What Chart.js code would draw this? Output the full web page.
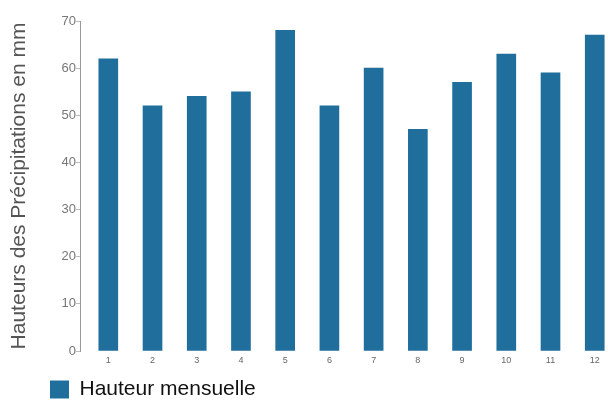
<!DOCTYPE html>
<html>
<head>
<meta charset="utf-8">
<script src="https://cdn.jsdelivr.net/npm/chart.js@4"></script>
<style>
  html, body { margin: 0; padding: 0; background: #fff; overflow: hidden; }
  #wrap { width: 608px; height: 400px; }
</style>
</head>
<body>
<div id="wrap"><canvas id="canva1"></canvas></div>
<script>
const Months = ['1', '2', '3', '4', '5', '6', '7', '8', '9', '10', '11', '12'];
const Heights = [62, 52, 54, 55, 68, 52, 60, 47, 57, 63, 59, 67];
const yTicks = [0, 10, 20, 30, 40, 50, 60, 70];
const seriesLabel = 'Hauteur mensuelle';
const yTitle = 'Hauteurs des Précipitations en mm';

var ctx1 = document.getElementById('canva1').getContext('2d');

// move the legend to the left like in the picture
const legendShift = {
    id: 'legendShift',
    afterLayout(chart) {
        if (chart.legend) chart.legend.left = 49;
    }
};

const barData = {
    datasets: [{
        label: seriesLabel,
        data: Heights.map((v, i) => ({ x: i + 1, y: v })),
        backgroundColor: '#1f6e9c',
        borderColor: '#1f6e9c',
        borderWidth: 0,
        barThickness: 19,
    }]
};

const scales = {
    x: {
        type: 'linear',
        offset: false,
        min: 0.36,
        max: 12.3,
        afterBuildTicks: (scale) => {
            scale.ticks = Months.map((m, i) => ({ value: i + 1 }));
        },
        afterFit: (scale) => { scale.height = 27; },
        grid: { display: false, drawTicks: false },
        border: { display: false },
        ticks: {
            padding: 4,
            color: '#666',
            font: { family: 'Liberation Sans', size: 9 },
            callback: (v) => Months[v - 1],
        },
    },
    y: {
        min: 0,
        max: 70,
        afterBuildTicks: (scale) => {
            scale.ticks = yTicks.map(v => ({ value: v }));
        },
        afterFit: (scale) => { scale.width = 80; },
        grid: {
            drawOnChartArea: false,
            tickLength: 4,
            color: '#bbb',
        },
        border: { display: true, color: '#999', width: 1 },
        ticks: {
            padding: 0,
            color: '#777',
            font: { family: 'Liberation Sans', size: 13 },
        },
        title: {
            display: true,
            text: yTitle,
            color: '#555',
            font: { family: 'Liberation Sans', size: 21 },
            padding: { top: 7, bottom: 4 },
        },
    },
};

const legend = {
    position: 'bottom',
    align: 'start',
    labels: {
        boxWidth: 19,
        boxHeight: 18,
        padding: 1,
        color: '#111',
        font: { family: 'Liberation Sans', size: 21 },
    }
};

const chartConfig = {
    type: 'bar',
    data: barData,
    options: {
        responsive: true,
        maintainAspectRatio: false,
        animation: false,
        layout: { padding: { top: 21, left: 0, right: 0, bottom: -10 } },
        scales,
        plugins: {
            legend,
            tooltip: { enabled: false },
        },
    },
    plugins: [legendShift],
};

const precipChart = new Chart(ctx1, chartConfig);
</script>
</body>
</html>
